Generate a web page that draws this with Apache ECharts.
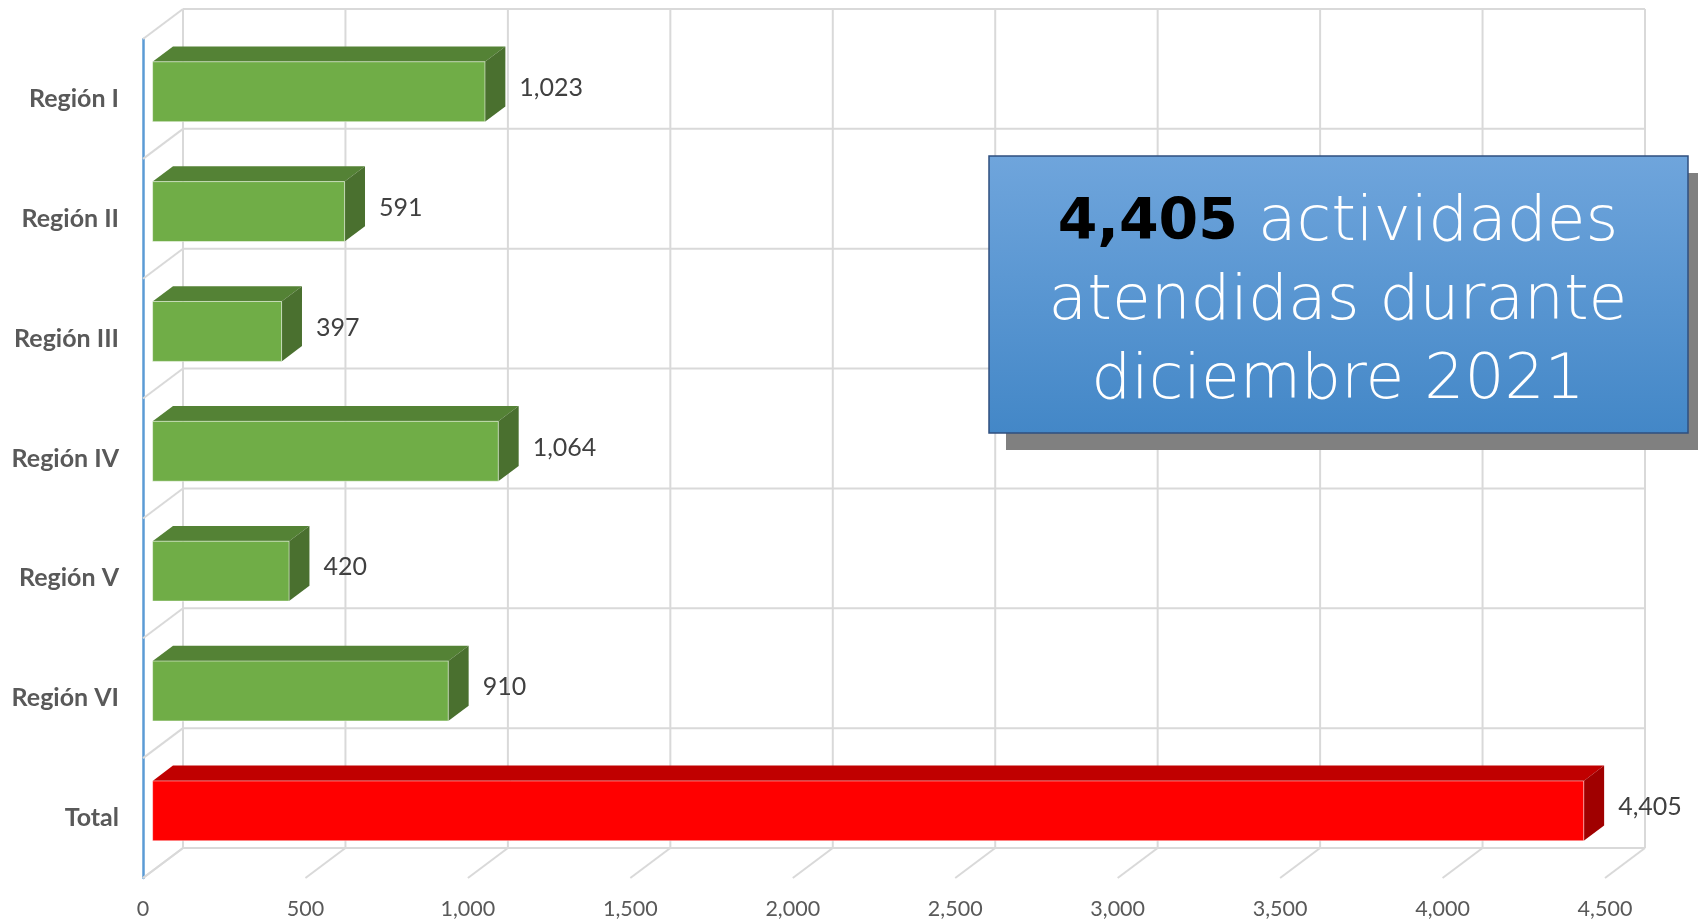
<!DOCTYPE html>
<html><head><meta charset="utf-8">
<script src="https://cdn.jsdelivr.net/npm/echarts@6/dist/echarts.min.js"></script>
<style>html,body{margin:0;padding:0;background:#fff}#c{width:1698px;height:922px}</style>
</head><body><div id="c"></div>
<script>
// ---- data ----
const categories = ['Región I', 'Región II', 'Región III', 'Región IV', 'Región V', 'Región VI', 'Total'];
const values = [1023, 591, 397, 1064, 420, 910, 4405];
const xTicks = [0, 500, 1000, 1500, 2000, 2500, 3000, 3500, 4000, 4500];
const calloutBold = '4,405';
const calloutLines = ['actividades', 'atendidas durante', 'diciembre 2021'];

// ---- style ----
const DX = 40, DY = -30;     // 3D depth offset
const F1 = 0.24, F2 = 0.75;  // bar front / back depth fraction
const GRID = '#D9D9D9';
const green = { face: '#70AD47', top: '#548235', side: '#4A702F' };
const red = { face: '#FF0000', top: '#C00000', side: '#A00000' };
const fmt = v => v.toLocaleString('en-US');

const chart = echarts.init(document.getElementById('c'));

function renderWalls(params, api) {
  const cs = params.coordSys;
  const top = cs.y, bottom = cs.y + cs.height;
  const bandH = api.size([0, 1])[1];
  const x0 = api.coord([xTicks[0], 0])[0];
  const xMax = api.coord([xTicks[xTicks.length - 1], 0])[0];
  const children = [];
  const line = (a, b, c, d) => children.push({
    type: 'line', shape: { x1: a, y1: b, x2: c, y2: d },
    style: { stroke: GRID, lineWidth: 2 }, silent: true
  });
  xTicks.forEach(t => {
    const x = api.coord([t, 0])[0];
    line(x + DX, top + DY, x + DX, bottom + DY);
    line(x, bottom, x + DX, bottom + DY);
  });
  for (let i = 0; i <= categories.length; i++) {
    const yb = top + i * bandH;
    line(x0 + DX, yb + DY, xMax + DX, yb + DY);
    line(x0, yb, x0 + DX, yb + DY);
  }
  return { type: 'group', children };
}

function renderBar(params, api) {
  const idx = api.value(1);
  const val = api.value(0);
  const p0 = api.coord([0, idx]);
  const p1 = api.coord([val, idx]);
  const bandH = api.size([0, 1])[1];
  const h = bandH * 0.5;
  const c = idx === categories.length - 1 ? red : green;
  const o1x = DX * F1, o1y = DY * F1, o2x = DX * F2, o2y = DY * F2;
  const xL = p0[0], xR = p1[0];
  const yT = p0[1] - h / 2, yB = p0[1] + h / 2;
  return {
    type: 'group',
    children: [
      { type: 'polygon', shape: { points: [[xL + o1x, yT + o1y], [xR + o1x, yT + o1y], [xR + o2x, yT + o2y], [xL + o2x, yT + o2y]] }, style: { fill: c.top } },
      { type: 'polygon', shape: { points: [[xR + o1x, yT + o1y], [xR + o2x, yT + o2y], [xR + o2x, yB + o2y], [xR + o1x, yB + o1y]] }, style: { fill: c.side } },
      { type: 'rect', shape: { x: xL + o1x, y: yT + o1y, width: xR - xL, height: yB - yT }, style: { fill: c.face, stroke: 'rgba(255,255,255,0.5)', lineWidth: 1 } },
      { type: 'text', x: xR + o2x + 14, y: p0[1] - 11,
        style: { text: fmt(val), fill: '#404040', fontSize: 25, fontFamily: 'Lato', align: 'left', verticalAlign: 'middle' } }
    ]
  };
}

const option = {
  animation: false,
  backgroundColor: '#ffffff',
  grid: { left: 143, right: 93, top: 39, bottom: 44 },
  xAxis: {
    type: 'value', min: 0, max: 4500, interval: 500,
    axisLine: { show: false }, axisTick: { show: false }, splitLine: { show: false },
    axisLabel: { color: '#595959', fontSize: 21.5, fontFamily: 'Lato', margin: 20, formatter: v => fmt(v) }
  },
  yAxis: {
    type: 'category', inverse: true, data: categories,
    axisLine: { show: true, lineStyle: { color: '#5B9BD5', width: 2.5 } },
    axisTick: { show: false }, splitLine: { show: false },
    axisLabel: { color: '#595959', fontSize: 25, fontWeight: 'bold', fontFamily: 'Lato', margin: 24, padding: [6, 0, 0, 0] }
  },
  series: [
    { type: 'custom', z: 1, silent: true, renderItem: renderWalls, data: [[0, 0]] },
    { type: 'custom', z: 3, renderItem: renderBar, data: values.map((v, i) => [v, i]) }
  ],
  graphic: [
    { type: 'rect', z: 10, shape: { x: 1006, y: 173, width: 700, height: 277 }, style: { fill: '#808080' } },
    { type: 'rect', z: 11, shape: { x: 989, y: 156, width: 699, height: 277 },
      style: { stroke: '#2F4F7F', lineWidth: 1.5,
        fill: new echarts.graphic.LinearGradient(0, 0, 0, 1, [{ offset: 0, color: '#6FA5DC' }, { offset: 1, color: '#4387C7' }]) } },
    { type: 'text', z: 12, x: 1338, y: 303,
      style: {
        text: '{b|' + calloutBold + '}{n| ' + calloutLines[0] + '}\n{n|' + calloutLines[1] + '}\n{n|' + calloutLines[2] + '}',
        align: 'center', verticalAlign: 'middle',
        rich: {
          b: { fontSize: 57, fontWeight: 'bold', fontFamily: 'DejaVu Sans', fill: '#000000', lineHeight: 79 },
          n: { fontSize: 63, fontWeight: 200, fontFamily: 'DejaVu Sans', fill: '#ffffff', lineHeight: 79 }
        }
      } }
  ]
};
chart.setOption(option);
</script></body></html>
